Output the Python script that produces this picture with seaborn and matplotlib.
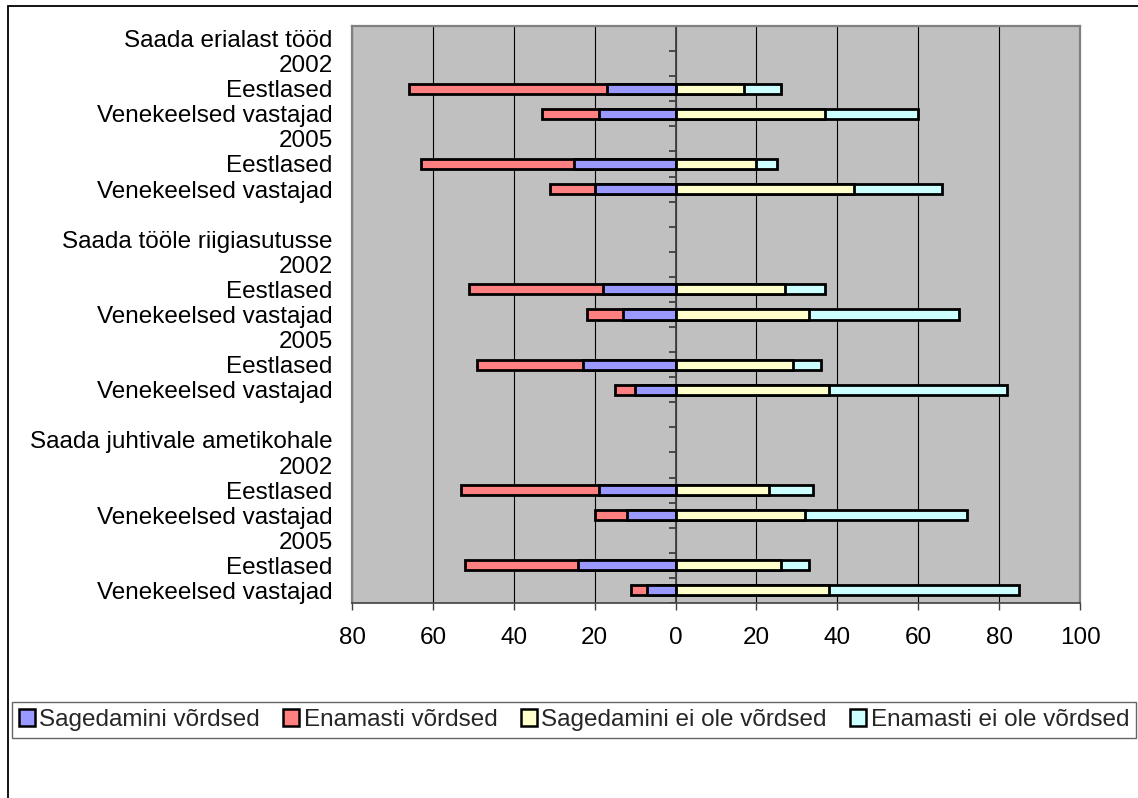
import matplotlib
matplotlib.use("Agg")
import numpy as np
import pandas as pd
import seaborn as sns
import matplotlib.pyplot as plt
from matplotlib.patches import Patch, Rectangle

nan = np.nan

# Category rows (top to bottom), including header and blank rows
row_labels = [
    "Saada erialast tööd", "2002", "Eestlased", "Venekeelsed vastajad",
    "2005", "Eestlased", "Venekeelsed vastajad", "",
    "Saada tööle riigiasutusse", "2002", "Eestlased", "Venekeelsed vastajad",
    "2005", "Eestlased", "Venekeelsed vastajad", "",
    "Saada juhtivale ametikohale", "2002", "Eestlased", "Venekeelsed vastajad",
    "2005", "Eestlased", "Venekeelsed vastajad",
]

# Series values (percent), NaN for header / blank rows
sagedamini_vordsed = [nan, nan, 17, 19, nan, 25, 20, nan,
                      nan, nan, 18, 13, nan, 23, 10, nan,
                      nan, nan, 19, 12, nan, 24, 7]
enamasti_vordsed = [nan, nan, 49, 14, nan, 38, 11, nan,
                    nan, nan, 33, 9, nan, 26, 5, nan,
                    nan, nan, 34, 8, nan, 28, 4]
sagedamini_ei_ole = [nan, nan, 17, 37, nan, 20, 44, nan,
                     nan, nan, 27, 33, nan, 29, 38, nan,
                     nan, nan, 23, 32, nan, 26, 38]
enamasti_ei_ole = [nan, nan, 9, 23, nan, 5, 22, nan,
                   nan, nan, 10, 37, nan, 7, 44, nan,
                   nan, nan, 11, 40, nan, 7, 47]

series_names = ["Sagedamini võrdsed", "Enamasti võrdsed",
                "Sagedamini ei ole võrdsed", "Enamasti ei ole võrdsed"]
colors = ["#9999FF", "#FF8080", "#FFFFCC", "#CCFFFF"]

x_ticks = [-80, -60, -40, -20, 0, 20, 40, 60, 80, 100]

sns.set_theme(style="white")
plt.rcParams["font.family"] = ["Liberation Sans", "DejaVu Sans"]

order = [f"r{i}" for i in range(len(row_labels))]
df = pd.DataFrame({
    "row": order,
    "blue": sagedamini_vordsed,
    "red": enamasti_vordsed,
    "yellow": sagedamini_ei_ole,
    "cyan": enamasti_ei_ole,
})
df["left_total"] = -(df["blue"] + df["red"])
df["left_blue"] = -df["blue"]
df["right_total"] = df["yellow"] + df["cyan"]
df["right_yellow"] = df["yellow"]
dfp = df.dropna()

W, H = 1138, 798
FS = 17.5
fig = plt.figure(figsize=(W / 100, H / 100), dpi=100)
fig.patch.set_facecolor("white")
ax = fig.add_axes([352 / W, 1 - 603 / H, (1080 - 352) / W, (603 - 26) / H])
ax.set_facecolor("#C0C0C0")

layers = [("left_total", colors[1]), ("left_blue", colors[0]),
          ("right_total", colors[3]), ("right_yellow", colors[2])]
for col, c in layers:
    sns.barplot(data=dfp, x=col, y="row", order=order, orient="h",
                color=c, saturation=1, edgecolor="black", linewidth=2.0,
                width=0.4, errorbar=None, ax=ax, zorder=3)

ax.set_xlim(-80, 100)
ax.set_ylim(len(order) - 0.5, -0.5)

# grid
ax.set_xticks(x_ticks)
ax.set_xticklabels([str(abs(t)) for t in x_ticks])
ax.grid(axis="x", color="black", linewidth=0.8)
ax.grid(axis="y", visible=False)
ax.set_axisbelow(True)

# zero axis with category tick marks
ax.axvline(0, color="#404040", linewidth=1.3, zorder=2)
ax.hlines(np.arange(-0.5, len(order)), -1.6, 0, color="#404040",
          linewidth=1.3, zorder=2)

ax.set_yticks(range(len(order)))
ax.set_yticklabels(row_labels)
ax.tick_params(axis="y", length=0, pad=14, labelsize=FS, labelcolor="black")
ax.tick_params(axis="x", direction="out", length=5, width=1, color="#404040",
               pad=12, labelsize=FS, labelcolor="black", bottom=True)
ax.set_xlabel("")
ax.set_ylabel("")

for s in ["left", "right", "top"]:
    ax.spines[s].set_color("#808080")
    ax.spines[s].set_linewidth(1.6)
ax.spines["bottom"].set_color("#404040")
ax.spines["bottom"].set_linewidth(1.2)

# outer chart frame
fig.patches.append(Rectangle((7.5 / W, -0.05), 1.1, (1 - 5.5 / H) + 0.05,
                             transform=fig.transFigure, fill=False,
                             edgecolor="black", linewidth=1.3))

handles = [Patch(facecolor=c, edgecolor="black", linewidth=1.8) for c in colors]
leg = fig.legend(handles, series_names, loc="center left",
                 bbox_to_anchor=(12 / W, 1 - 720 / H), ncol=4, fontsize=FS,
                 frameon=True, fancybox=False, edgecolor="#404040",
                 handlelength=0.65, handleheight=0.65, handletextpad=0.2,
                 columnspacing=0.95, borderpad=0.28, borderaxespad=0)
leg.get_frame().set_linewidth(1)
leg.get_frame().set_facecolor("white")

fig.savefig("out.png", dpi=100)
